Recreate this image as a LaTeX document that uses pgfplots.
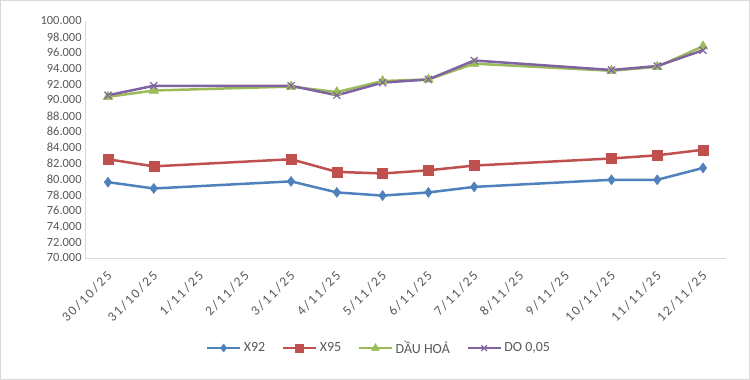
\documentclass[border=0pt]{standalone}
\usepackage{pgfplots}
\pgfplotsset{compat=1.18}
\usepackage{pgfplotstable}
\usepackage{fontspec}
\setmainfont{Carlito}
\definecolor{cblue}{HTML}{4F81BD}
\definecolor{cred}{HTML}{C0504D}
\definecolor{cgreen}{HTML}{9BBB59}
\definecolor{cpurple}{HTML}{8064A2}
\definecolor{txtgray}{HTML}{595959}
\definecolor{linegray}{HTML}{D9D9D9}
\pgfplotstableread{
x y
0 79600
1 78800
4 79700
5 78300
6 77900
7 78300
8 79000
11 79900
12 79900
13 81400
}\xnine
\pgfplotstableread{
x y
0 82500
1 81600
4 82500
5 80900
6 80700
7 81100
8 81700
11 82600
12 83000
13 83700
}\xfive
\pgfplotstableread{
x y
0 90400
1 91200
4 91700
5 91000
6 92400
7 92600
8 94600
11 93700
12 94200
13 96800
}\dauhoa
\pgfplotstableread{
x y
0 90600
1 91800
4 91800
5 90600
6 92200
7 92600
8 95000
11 93800
12 94300
13 96300
}\dozero
\begin{document}
\begin{tikzpicture}
\draw[linegray, line width=1bp] (0.5bp,0.5bp) rectangle (749.5bp,379.5bp);
\begin{axis}[
  at={(85.1bp,122bp)}, anchor=south west,
  scale only axis, width=640.8bp, height=237bp,
  xmin=-0.5, xmax=13.5, ymin=70000, ymax=100000,
  axis x line*=bottom, axis y line*=left,
  axis line style={linegray, line width=1bp, -},
  major tick length=0pt,
  xtick={0,...,13},
  xticklabels={30/10/25,31/10/25,1/11/25,2/11/25,3/11/25,4/11/25,5/11/25,6/11/25,7/11/25,8/11/25,9/11/25,10/11/25,11/11/25,12/11/25},
  x tick label style={xshift=-2bp, yshift=-12bp, rotate=45, anchor=north east, font=\fontsize{13.5}{15}\selectfont\addfontfeatures{LetterSpace=14}, text=txtgray, inner sep=0bp},
  ytick={70000,72000,...,100000},
  scaled y ticks=false,
  y tick label style={font=\fontsize{12.5}{14}\selectfont, text=txtgray, /pgf/number format/.cd, fixed, 1000 sep={.}, assume math mode=true},
  legend columns=4,
  legend style={at={(0.459,-0.38)}, anchor=center, draw=none, font=\fontsize{14}{16}\selectfont, text=txtgray, nodes={inner sep=2.5bp}, /tikz/every even column/.append style={column sep=14bp}},
  legend image code/.code={\draw[mark repeat=2, mark phase=2, every mark/.append style={scale=0.8}] plot coordinates {(0bp,0bp) (16.5bp,0bp) (33bp,0bp)};},
  every axis plot/.append style={line width=2.5bp},
]
\addplot[cblue, mark=diamond*, mark size=5bp, mark options={solid, line width=0.5bp}] table {\xnine};
\addlegendentry{X92}
\addplot[cred, mark=square*, mark size=5bp, mark options={solid, line width=0.5bp}] table {\xfive};
\addlegendentry{X95}
\addplot[cgreen, mark=triangle*, mark size=5.5bp, mark options={solid, line width=0.5bp}] table {\dauhoa};
\addlegendentry{DẦU HOẢ}
\addplot[cpurple, mark=x, mark size=5bp, mark options={solid, line width=1.2bp}] table {\dozero};
\addlegendentry{DO 0,05}
\end{axis}
\end{tikzpicture}
\end{document}
